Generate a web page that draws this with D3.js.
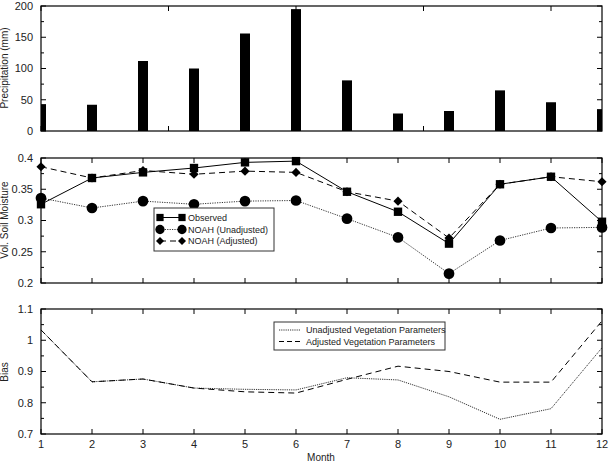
<!DOCTYPE html>
<html>
<head>
<meta charset="utf-8">
<script src="https://cdn.jsdelivr.net/npm/d3@7"></script>
<style>
  body { margin: 0; background: #fff; }
  text { font-family: "Liberation Sans", Arial, sans-serif; fill: #222; }
</style>
</head>
<body>
<svg id="chart" width="613" height="464"></svg>
<script>
// <-- ************ DATA ************ -->
const MONTHS = [1, 2, 3, 4, 5, 6, 7, 8, 9, 10, 11, 12];
const PRECIP = [43, 42, 112, 100, 156, 195, 81, 28, 32, 65, 46, 35];

const OBSERVED   = [0.326, 0.368, 0.377, 0.384, 0.393, 0.395, 0.346, 0.314, 0.263, 0.358, 0.370, 0.298];
const NOAH_UNADJ = [0.336, 0.320, 0.331, 0.326, 0.331, 0.332, 0.303, 0.273, 0.215, 0.268, 0.288, 0.289];
const NOAH_ADJ   = [0.386, 0.368, 0.380, 0.374, 0.379, 0.377, 0.346, 0.331, 0.272, 0.358, 0.370, 0.362];

const BIAS_UNADJ = [1.033, 0.867, 0.876, 0.847, 0.843, 0.841, 0.880, 0.873, 0.819, 0.747, 0.781, 0.976];
const BIAS_ADJ   = [1.033, 0.867, 0.876, 0.847, 0.835, 0.831, 0.875, 0.917, 0.900, 0.866, 0.866, 1.062];

const PRECIP_TICKS = [0, 50, 100, 150, 200];
const SOIL_TICKS = [0.2, 0.25, 0.3, 0.35, 0.4];
const BIAS_TICKS = [0.7, 0.8, 0.9, 1, 1.1];
const TOP_X_TICKS = [1, 3.5, 6, 8.5, 11];

// <-- ************ LAYOUT ************ -->
const LEFT = 41, RIGHT = 602;
const PANELS = {
  precip: {top: 6, bottom: 131},
  soil: {top: 158, bottom: 283},
  bias: {top: 309, bottom: 434}
};

const SVG = d3.select("#chart");
const X = d3.scaleLinear().domain([1, 12]).range([LEFT, RIGHT]);

function frame(p, yScale, majors, minors, xTicks) {
  const g = SVG.append("g");
  // y ticks left & right, inward
  majors.forEach(v => {
    g.append("line").attr("x1", LEFT).attr("x2", LEFT + 5).attr("y1", yScale(v)).attr("y2", yScale(v))
      .attr("stroke", "#000");
    g.append("line").attr("x1", RIGHT).attr("x2", RIGHT - 5).attr("y1", yScale(v)).attr("y2", yScale(v))
      .attr("stroke", "#000");
  });
  minors.forEach(v => {
    g.append("line").attr("x1", LEFT).attr("x2", LEFT + 3).attr("y1", yScale(v)).attr("y2", yScale(v))
      .attr("stroke", "#000");
    g.append("line").attr("x1", RIGHT).attr("x2", RIGHT - 3).attr("y1", yScale(v)).attr("y2", yScale(v))
      .attr("stroke", "#000");
  });
  // x ticks top & bottom
  xTicks.forEach(m => {
    g.append("line").attr("x1", X(m)).attr("x2", X(m)).attr("y1", p.top).attr("y2", p.top + 5)
      .attr("stroke", "#000");
    g.append("line").attr("x1", X(m)).attr("x2", X(m)).attr("y1", p.bottom).attr("y2", p.bottom - 5)
      .attr("stroke", "#000");
  });
  g.append("rect").attr("x", LEFT).attr("y", p.top).attr("width", RIGHT - LEFT).attr("height", p.bottom - p.top)
    .attr("fill", "none").attr("stroke", "#000").attr("stroke-width", 1.2);
  // tick labels
  g.selectAll("text.yl").data(majors).enter().append("text")
    .attr("x", 33).attr("y", d => yScale(d)).attr("dy", "0.35em")
    .attr("text-anchor", "end").attr("font-size", "11px")
    .text(d => d);
}

function yLabel(txt, x, y) {
  SVG.append("text").attr("transform", "translate(" + x + "," + y + ") rotate(-90)")
    .attr("text-anchor", "middle").attr("font-size", "10px").text(txt);
}

// diamond = square turned 45 degrees
const diamond = {
  draw(ctx, size) {
    const r = Math.sqrt(size / 2);
    ctx.moveTo(0, -r); ctx.lineTo(r, 0); ctx.lineTo(0, r); ctx.lineTo(-r, 0); ctx.closePath();
  }
};

// <-- ************ PANEL 1: PRECIPITATION ************ -->
const Y1 = d3.scaleLinear().domain([0, 200]).range([PANELS.precip.bottom, PANELS.precip.top]);
SVG.append("clipPath").attr("id", "clip1").append("rect")
  .attr("x", LEFT).attr("y", PANELS.precip.top).attr("width", RIGHT - LEFT).attr("height", PANELS.precip.bottom - PANELS.precip.top);
SVG.append("g").attr("clip-path", "url(#clip1)")
  .selectAll("rect").data(PRECIP).enter().append("rect")
  .attr("x", (d, i) => X(MONTHS[i]) - 5)
  .attr("y", d => Y1(d))
  .attr("width", 10)
  .attr("height", d => Y1(0) - Y1(d))
  .attr("fill", "#000");
frame(PANELS.precip, Y1, PRECIP_TICKS, [25, 75, 125, 175], TOP_X_TICKS);
yLabel("Precipitation (mm)", 8, 68);

// <-- ************ PANEL 2: SOIL MOISTURE ************ -->
const Y2 = d3.scaleLinear().domain([0.2, 0.4]).range([PANELS.soil.bottom, PANELS.soil.top]);
frame(PANELS.soil, Y2, SOIL_TICKS, [0.225, 0.275, 0.325, 0.375], MONTHS);
yLabel("Vol. Soil Moisture", 8, 220);

const line2 = d3.line().x((d, i) => X(MONTHS[i])).y(d => Y2(d));
const SOIL_SERIES = [
  {vals: NOAH_UNADJ, dash: "1.2,1.2", width: 0.8, shape: d3.symbolCircle, size: 90},
  {vals: NOAH_ADJ, dash: "6,4", width: 1, shape: diamond, size: 42},
  {vals: OBSERVED, dash: null, width: 1, shape: d3.symbolSquare, size: 70}
];
SOIL_SERIES.forEach(s => {
  SVG.append("path").datum(s.vals).attr("d", line2)
    .attr("fill", "none").attr("stroke", "#000").attr("stroke-width", s.width)
    .attr("stroke-dasharray", s.dash);
  SVG.append("g").selectAll("path").data(s.vals).enter().append("path")
    .attr("transform", (d, i) => "translate(" + X(MONTHS[i]) + "," + Y2(d) + ")")
    .attr("d", d3.symbol().type(s.shape).size(s.size))
    .attr("fill", "#000");
});

// legend
const LEG2 = SVG.append("g");
LEG2.append("rect").attr("x", 154).attr("y", 208).attr("width", 120).attr("height", 43)
  .attr("fill", "#fff").attr("stroke", "#333").attr("stroke-width", 1);
const LEG2_ITEMS = [
  {name: "Observed", s: SOIL_SERIES[2], y: 217.5},
  {name: "NOAH (Unadjusted)", s: SOIL_SERIES[0], y: 229.5},
  {name: "NOAH (Adjusted)", s: SOIL_SERIES[1], y: 241}
];
LEG2_ITEMS.forEach(it => {
  LEG2.append("line").attr("x1", 160).attr("x2", 182).attr("y1", it.y).attr("y2", it.y)
    .attr("stroke", "#000").attr("stroke-width", it.s.width).attr("stroke-dasharray", it.s.dash);
  [160, 182].forEach(x => {
    LEG2.append("path").attr("transform", "translate(" + x + "," + it.y + ")")
      .attr("d", d3.symbol().type(it.s.shape).size(it.s.size * 0.75)).attr("fill", "#000");
  });
  LEG2.append("text").attr("x", 188).attr("y", it.y).attr("dy", "0.35em")
    .attr("font-size", "9px").text(it.name);
});

// <-- ************ PANEL 3: BIAS ************ -->
const Y3 = d3.scaleLinear().domain([0.7, 1.1]).range([PANELS.bias.bottom, PANELS.bias.top]);
frame(PANELS.bias, Y3, BIAS_TICKS, [0.75, 0.85, 0.95, 1.05], MONTHS);
yLabel("Bias", 8, 372);

const line3 = d3.line().x((d, i) => X(MONTHS[i])).y(d => Y3(d));
SVG.append("path").datum(BIAS_UNADJ).attr("d", line3)
  .attr("fill", "none").attr("stroke", "#000").attr("stroke-width", 0.8).attr("stroke-dasharray", "1.2,1");
SVG.append("path").datum(BIAS_ADJ).attr("d", line3)
  .attr("fill", "none").attr("stroke", "#000").attr("stroke-width", 1).attr("stroke-dasharray", "6,4");

// x tick labels
SVG.append("g").selectAll("text").data(MONTHS).enter().append("text")
  .attr("x", d => X(d)).attr("y", 448)
  .attr("text-anchor", "middle").attr("font-size", "11px").text(d => d);
SVG.append("text").attr("x", 321).attr("y", 461).attr("text-anchor", "middle")
  .attr("font-size", "10px").text("Month");

// legend
const LEG3 = SVG.append("g");
LEG3.append("rect").attr("x", 274).attr("y", 322).attr("width", 171).attr("height", 28)
  .attr("fill", "#fff").attr("stroke", "#333").attr("stroke-width", 1);
LEG3.append("line").attr("x1", 279).attr("x2", 300).attr("y1", 330).attr("y2", 330)
  .attr("stroke", "#000").attr("stroke-width", 0.8).attr("stroke-dasharray", "1.2,1");
LEG3.append("line").attr("x1", 279).attr("x2", 300).attr("y1", 341.5).attr("y2", 341.5)
  .attr("stroke", "#000").attr("stroke-width", 1).attr("stroke-dasharray", "5,3");
LEG3.append("text").attr("x", 306).attr("y", 330).attr("dy", "0.35em").attr("font-size", "9px")
  .text("Unadjusted Vegetation Parameters");
LEG3.append("text").attr("x", 306).attr("y", 341.5).attr("dy", "0.35em").attr("font-size", "9px")
  .text("Adjusted Vegetation Parameters");
</script>
</body>
</html>
